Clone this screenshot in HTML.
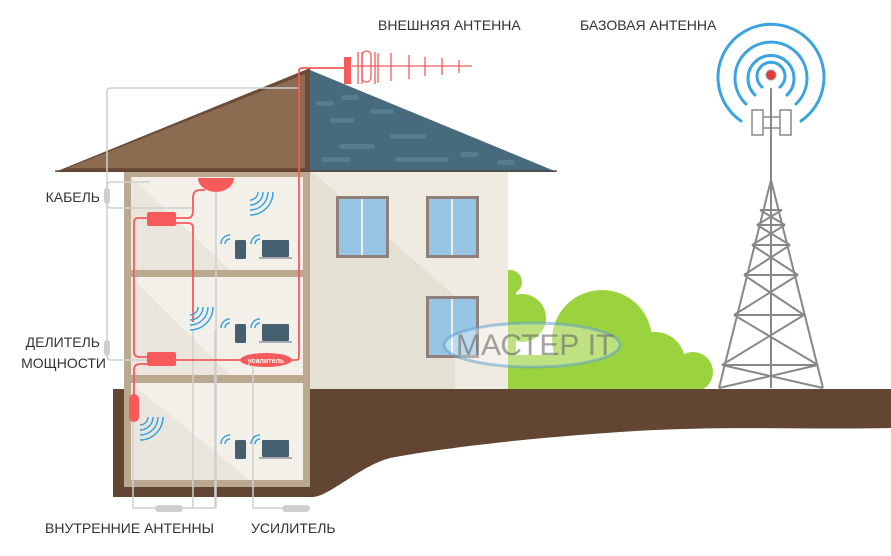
<!DOCTYPE html>
<html><head><meta charset="utf-8"><style>
html,body{margin:0;padding:0;background:#fff;}
svg{display:block}
text{font-family:"Liberation Sans",sans-serif;}
</style></head><body>
<svg width="891" height="556" viewBox="0 0 891 556" xmlns="http://www.w3.org/2000/svg">
<!-- bushes -->
<g fill="#9bd33e">
<circle cx="510" cy="282" r="12"/>
<circle cx="522" cy="318" r="24"/>
<circle cx="602" cy="340" r="50"/>
<circle cx="655" cy="362" r="30"/>
<circle cx="693" cy="372" r="20"/>
<rect x="508" y="355" width="185" height="35"/>
<rect x="508" y="285" width="8" height="70"/>
</g>
<!-- ground -->
<path d="M113 389 L891 389 L891 428 C800 430 720 425 620 432 C500 440 420 452 390 458 C360 466 330 496 313 497 L113 497 Z" fill="#624533"/>
<!-- right wall -->
<rect x="310" y="170" width="198" height="219" fill="#efebe1"/>
<path d="M310 170 L455 296 L455 389 L310 389 Z" fill="#e4e0d3"/>
<!-- windows -->
<g>
<rect x="336" y="196" width="53" height="62" fill="#8f8079"/><rect x="339" y="199" width="47" height="56" fill="#96c6e3"/><rect x="361" y="199" width="2" height="56" fill="#eef"/>
<rect x="426" y="196" width="53" height="62" fill="#8f8079"/><rect x="429" y="199" width="47" height="56" fill="#96c6e3"/><rect x="451" y="199" width="2" height="56" fill="#eef"/>
<rect x="426" y="296" width="53" height="62" fill="#8f8079"/><rect x="429" y="299" width="47" height="56" fill="#96c6e3"/><rect x="451" y="299" width="2" height="56" fill="#eef"/>
</g>
<!-- section house -->
<rect x="124" y="170" width="186" height="317" fill="#bba98f"/>
<rect x="131" y="177" width="172" height="93" fill="#f3f0ea"/>
<rect x="131" y="277" width="172" height="98" fill="#f3f0ea"/>
<rect x="131" y="383" width="172" height="97" fill="#f3f0ea"/>
<path d="M131 177 L230 270 L131 270Z M131 277 L230 375 L131 375Z M131 383 L250 480 L131 480Z" fill="#ebe6dd"/>
<!-- roof -->
<path d="M55 172 L310 68 L310 172 Z" fill="#6b4c39"/>
<path d="M68 168 L305 74 L305 168 Z" fill="#8c6c51"/>
<path d="M310 70 L557 172 L310 172 Z" fill="#476a7c"/>
<g fill="#557f91">
<rect x="316" y="101" width="18" height="5" rx="2.5"/><rect x="341" y="95" width="18" height="5" rx="2.5"/>
<rect x="370" y="109" width="24" height="5" rx="2.5"/><rect x="330" y="118" width="24" height="5" rx="2.5"/>
<rect x="390" y="134" width="36" height="5" rx="2.5"/><rect x="339" y="144" width="36" height="5" rx="2.5"/>
<rect x="321" y="157" width="30" height="5" rx="2.5"/><rect x="395" y="157" width="54" height="5" rx="2.5"/>
<rect x="460" y="152" width="18" height="5" rx="2.5"/><rect x="497" y="160" width="18" height="5" rx="2.5"/>
</g>
<rect x="55" y="170" width="502" height="2" fill="#5a4030" opacity="0.6"/>
<!-- gray pointer lines -->
<g fill="none" stroke="#cfcfcf" stroke-width="1.5">
<path d="M107 200 L107 92 Q107 88 111 88 L300 88"/>
<path d="M107 200 L107 204 Q107 208 111 208 L195 208"/>
<path d="M150 182 L111 182 Q107 182 107 186 L107 356 Q107 360 111 360 L150 360"/>
<path d="M133 420 L133 508 L215 508 L215 330"/>
<path d="M193 330 L193 508"/>
<path d="M216 185 L216 508"/>
<path d="M253 366 L253 508 L310 508"/>
</g>
<g fill="#cfcfcf">
<rect x="104" y="188" width="6" height="16" rx="3"/>
<rect x="104" y="340" width="6" height="16" rx="3"/>
<rect x="155" y="505" width="28" height="7" rx="3.5"/>
<rect x="282" y="505" width="28" height="7" rx="3.5"/>
</g>
<!-- red cables -->
<g fill="none" stroke="#f65a5a" stroke-width="1.8">
<path d="M345 68 L302 68 Q299 68 299 71 L299 357 Q299 360 296 360 L290 360"/>
<path d="M175 360 L240 360"/>
<path d="M175 218 L188 218 Q193 218 193 210 L193 198 Q193 190 200 190 L205 190"/>
<path d="M176 223 L188 223 Q193 223 193 228 L193 322"/>
<path d="M150 218 L138 218 Q134 218 134 222 L134 352 Q134 357 140 357 L150 357"/>
<path d="M150 364 L140 364 Q134 364 134 370 L134 400"/>
</g>
<g fill="#f65a5a">
<path d="M198 178 L234 178 A18 14 0 0 1 198 178 Z"/>
<rect x="147" y="212" width="29" height="14" rx="2"/>
<rect x="147" y="352" width="29" height="14" rx="2"/>
<ellipse cx="266" cy="360" rx="26" ry="7"/>
<rect x="129" y="394" width="10" height="28" rx="5"/>
<rect x="344" y="57" width="7" height="27"/>
</g>
<text x="266" y="363" font-size="7" font-weight="bold" fill="#fff" text-anchor="middle">усилитель</text>
<!-- yagi -->
<g stroke="#f65a5a" stroke-width="1.3" fill="none">
<line x1="352" y1="66" x2="472" y2="66"/>
<path d="M358 52 L358 84 M362 52 L362 84"/>
<rect x="362" y="51" width="9" height="31" rx="4.5"/>
<path d="M375 52 L375 84 M378 53 L378 83 M391 53 L391 81 M409 55 L409 79 M425 57 L425 76 M442 58 L442 75 M459 60 L459 73"/>
</g>
<!-- wifi and devices -->
<defs>
<g id="w"><path d="M0 0 A5 5 0 0 1 5 -5 M-4 0 A9 9 0 0 1 5 -9" stroke="#3aa3e0" stroke-width="1.5" fill="none"/></g>
<g id="dev">
<use href="#w" x="225" y="244"/><use href="#w" x="255" y="244"/>
<rect x="235" y="240" width="11" height="19" rx="1.5" fill="#455f6e"/>
<rect x="262" y="240" width="27" height="17" rx="1" fill="#455f6e"/>
<rect x="259" y="257" width="33" height="2" fill="#aab"/>
</g>
<g id="big"><path d="M0 0 A8 8 0 0 0 8 -8 M0 5 A13 13 0 0 0 13 -8 M0 10 A18 18 0 0 0 18 -8 M0 15 A23 23 0 0 0 23 -8" stroke="#3aa3e0" stroke-width="1.5" fill="none"/></g>
</defs>
<use href="#dev"/><use href="#dev" y="84"/><use href="#dev" y="200"/>
<use href="#big" x="250" y="200"/>
<use href="#big" x="190" y="315"/>
<use href="#big" x="140" y="425"/>
<!-- watermark -->
<ellipse cx="532" cy="345" rx="88" ry="22" fill="#fff" fill-opacity="0.35" stroke="#5a9bd0" stroke-opacity="0.5" stroke-width="3"/>
<text x="456" y="355" font-size="30" fill="#666" fill-opacity="0.6">МАСТЕР IT</text>
<!-- tower -->
<g stroke="#888" stroke-width="2" fill="none">
<line x1="771" y1="88" x2="771" y2="388"/>
<path d="M719 388 L771 180 L823 388"/>
<path d="M760 210 L782 210 M757 225 L785 225 M752 245 L790 245 M744 275 L798 275 M734 315 L804 315 M722 365 L818 365"/>
<path d="M760 210 L785 225 M782 210 L757 225 M757 225 L790 245 M785 225 L752 245 M752 245 L798 275 M790 245 L744 275 M744 275 L804 315 M798 275 L734 315 M734 315 L818 365 M804 315 L722 365 M722 365 L823 388 M818 365 L719 388"/>
<rect x="752" y="110" width="11" height="25" stroke-width="1.5"/><rect x="780" y="110" width="11" height="25" stroke-width="1.5"/>
<path d="M763 117 L780 117 M763 128 L780 128" stroke-width="1.5"/>
</g>
<circle cx="771" cy="75" r="5" fill="#e53935" stroke="#999" stroke-width="1"/>
<g stroke="#3aa3e0" stroke-width="3" fill="none" stroke-linecap="round">
<path d="M762 87 A14 14 0 1 1 780 87"/>
<path d="M755 95 A23 23 0 1 1 787 95"/>
<path d="M746 104 A36 36 0 1 1 796 104"/>
<path d="M741 121 A53 53 0 1 1 801 121"/>
</g>
<!-- labels -->
<g font-size="14" fill="#333">
<text x="378" y="30">ВНЕШНЯЯ АНТЕННА</text>
<text x="580" y="30">БАЗОВАЯ АНТЕННА</text>
<text x="100" y="202" text-anchor="end">КАБЕЛЬ</text>
<text x="100" y="347" text-anchor="end">ДЕЛИТЕЛЬ</text>
<text x="106" y="368" text-anchor="end">МОЩНОСТИ</text>
<text x="45" y="533">ВНУТРЕННИЕ АНТЕННЫ</text>
<text x="251" y="533">УСИЛИТЕЛЬ</text>
</g>
</svg>
</body></html>
